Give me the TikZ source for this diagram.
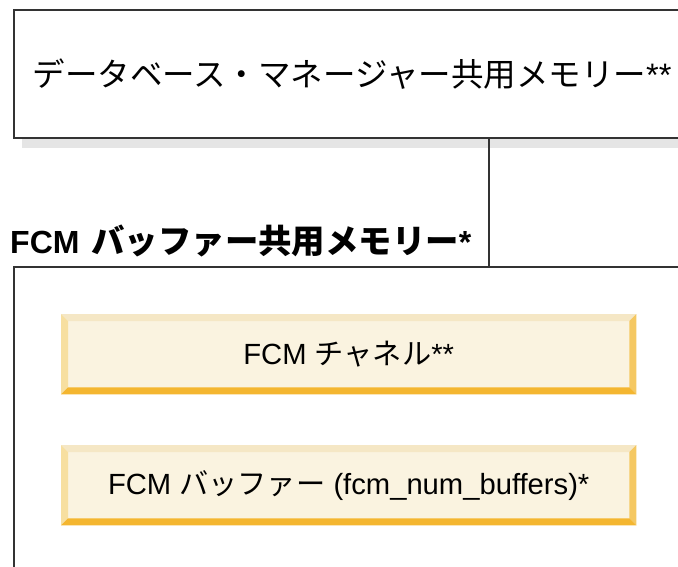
\documentclass[tikz,border=0pt]{standalone}
\usepackage{fontspec}
\setmainfont{Liberation Sans}
\newfontfamily\jp{Noto Sans CJK JP}
\usetikzlibrary{positioning}

\definecolor{barfill}{HTML}{FAF3E0}
\definecolor{bevtop}{HTML}{F5E7C5}
\definecolor{bevleft}{HTML}{F7DFA0}
\definecolor{bevright}{HTML}{F5C862}
\definecolor{bevbottom}{HTML}{F4B630}
\definecolor{edge}{HTML}{333333}

\tikzset{
  membox/.style={draw=edge, line width=2pt, rectangle, inner sep=0pt},
  barbox/.style={rectangle, fill=barfill, inner sep=0pt, minimum width=575pt,
    minimum height=80pt, anchor=north west, font=\fontsize{29.2}{32}\selectfont},
  link/.style={draw=edge, line width=2pt}
}

% bevelled edges of a bar node
\newcommand{\bevel}[1]{
  \fill[bevtop] (#1.north west) -- (#1.north east) -- ([shift={(-7,7)}]#1.north east) -- ([shift={(7,7)}]#1.north west) -- cycle;
  \fill[bevleft] (#1.north west) -- ([shift={(7,7)}]#1.north west) -- ([shift={(7,-7)}]#1.south west) -- (#1.south west) -- cycle;
  \fill[bevright] (#1.north east) -- (#1.south east) -- ([shift={(-7,-7)}]#1.south east) -- ([shift={(-7,7)}]#1.north east) -- cycle;
  \fill[bevbottom] (#1.south west) -- ([shift={(7,-7)}]#1.south west) -- ([shift={(-7,-7)}]#1.south east) -- (#1.south east) -- cycle;
}

\begin{document}
\begin{tikzpicture}[x=1pt,y=-1pt]
  \useasboundingbox (0,0) rectangle (678,567);
  \clip (0,0) rectangle (678,567);

  % database manager shared memory
  \fill[black!10] (22,137) rectangle (700,148);
  \node[membox, anchor=north west, minimum width=676pt, minimum height=128pt,
    font=\fontsize{32.5}{36}\selectfont] (dbm) at (13,9)
    {{\jp データベース・マネージャー共用メモリー}**};

  % FCM buffer shared memory
  \node[anchor=base west, inner sep=0pt, font=\bfseries\fontsize{32}{36}\selectfont]
    (fcmlabel) at (10,253) {FCM\hspace{12pt}{\jp\bfseries\fontsize{33.4}{36}\selectfont バッファー共用メモリー}*};
  \node[membox, anchor=north west, minimum width=700pt, minimum height=340pt] (fcmbox) at (13,266) {};

  \coordinate (tap) at (489,0);
  \draw[link] (dbm.south -| tap) -- (fcmbox.north -| tap);

  % contents
  \node[barbox] (chan) at (61,314) {FCM {\jp チャネル}**};
  \bevel{chan}
  \node[barbox] (buf) at (61,445) {FCM {\jp バッファー} (fcm\_num\_buffers)*};
  \bevel{buf}
\end{tikzpicture}
\end{document}
